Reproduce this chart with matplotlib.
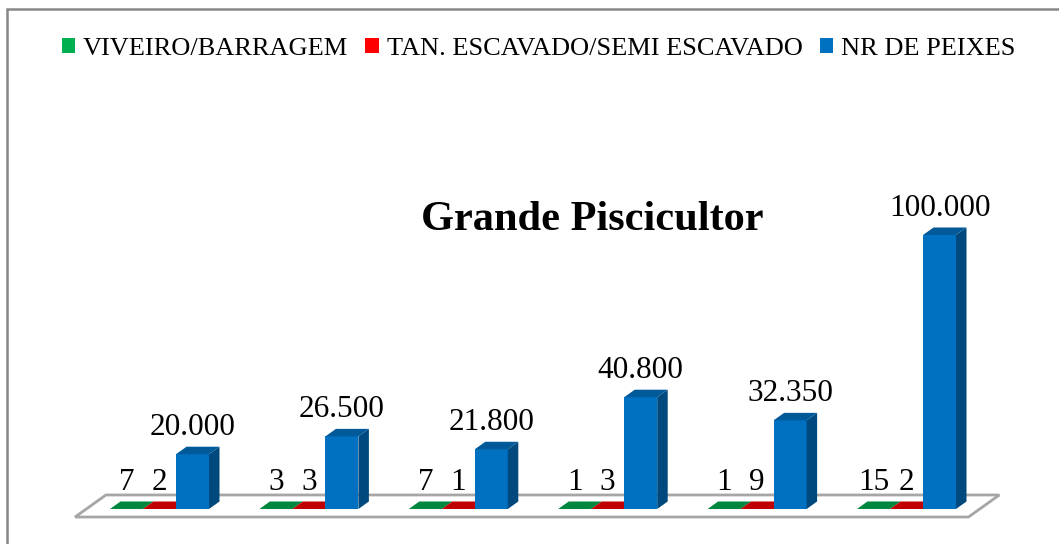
import numpy as np
import matplotlib.pyplot as plt
from matplotlib.patches import Polygon, Patch, Rectangle

# dados
viveiro = [7, 3, 7, 1, 1, 15]
tanque = [2, 3, 1, 3, 9, 2]
peixes = [20000, 26500, 21800, 40800, 32350, 100000]
series_nomes = ['VIVEIRO/BARRAGEM', 'TAN. ESCAVADO/SEMI ESCAVADO', 'NR DE PEIXES']
titulo = 'Grande Piscicultor'

# cores: (frente, lado, topo) de cada serie
cores = [('#00B050', '#00753A', '#00873F'),
         ('#FF0000', '#A00000', '#C00000'),
         ('#0070C0', '#00497E', '#005A9A')]
cores_legenda = ['#00B050', '#FF0000', '#0070C0']

W, H = 1059, 544
fig = plt.figure(figsize=(W / 100, H / 100), dpi=100)
plt.rcParams['font.family'] = ['Liberation Serif', 'DejaVu Serif']

n = len(peixes)
passo = 149.4  # pixels entre grupos
ax = fig.add_axes([(159.5 - 0.7 * passo) / W, 35 / H, (n - 1 + 1.4) * passo / W, 274 / H])
ax.set_xlim(-0.7, n - 1 + 0.7)
ax.set_ylim(0, max(peixes))
ax.axis('off')


def px2data(dxp, dyp):
    inv = ax.transData.inverted()
    p0 = ax.transData.transform((0, 0))
    q = inv.transform(p0 + np.array([dxp, dyp]))
    return q[0], q[1]


# profundidade 3d (pixels)
dx, dy = px2data(10.5, 7.5)
larg = px2data(33, 0)[0]
off_label = px2data(0, 19)[1]

# chao
f0, f1 = -1.07, 1.87
xa, xb = -0.49, n - 1 + 0.49
chao = [(xa + f0 * dx, f0 * dy), (xb + f0 * dx, f0 * dy),
        (xb + f1 * dx, f1 * dy), (xa + f1 * dx, f1 * dy)]
ax.add_patch(Polygon(chao, closed=True, fc='white', ec='#A6A6A6', lw=2,
                     clip_on=False, zorder=1))


def barra3d(x0, h, cf, cl, ct):
    x1 = x0 + larg
    ax.add_patch(Rectangle((x0, 0), larg, h, fc=cf, ec='none', clip_on=False, zorder=3))
    ax.add_patch(Polygon([(x1, 0), (x1 + dx, dy), (x1 + dx, h + dy), (x1, h)],
                         fc=cl, ec='none', clip_on=False, zorder=3))
    ax.add_patch(Polygon([(x0, h), (x1, h), (x1 + dx, h + dy), (x0 + dx, h + dy)],
                         fc=ct, ec='none', clip_on=False, zorder=3))


def fmt(v):
    return f'{v:,}'.replace(',', '.')


for i in range(n):
    for s, vals in enumerate([viveiro, tanque, peixes]):
        x0 = i + (s - 1.5) * larg
        v = vals[i]
        barra3d(x0, v, *cores[s])
        ax.text(x0 + larg / 2, v + off_label, fmt(v), ha='center', va='baseline',
                fontsize=22.5, color='black', zorder=5, clip_on=False)

# titulo
fig.text(592 / W, 314 / H, titulo, ha='center', va='baseline', fontsize=30.5,
         fontweight='bold')

# legenda
handles = [Patch(fc=c, ec='none') for c in cores_legenda]
fig.legend(handles, series_nomes, loc='center', bbox_to_anchor=(538.5 / W, 495 / H),
           ncol=3, frameon=False, fontsize=19, handlelength=0.5, handleheight=0.5,
           handletextpad=0.3, columnspacing=0.65, borderpad=0)

# moldura
fig.patches.append(Rectangle((7 / W, -0.1), 1.2, (H - 9) / H + 0.1,
                             transform=fig.transFigure, fill=False,
                             ec='#888888', lw=1.8))

fig.savefig('out.png', dpi=100, facecolor='white')
